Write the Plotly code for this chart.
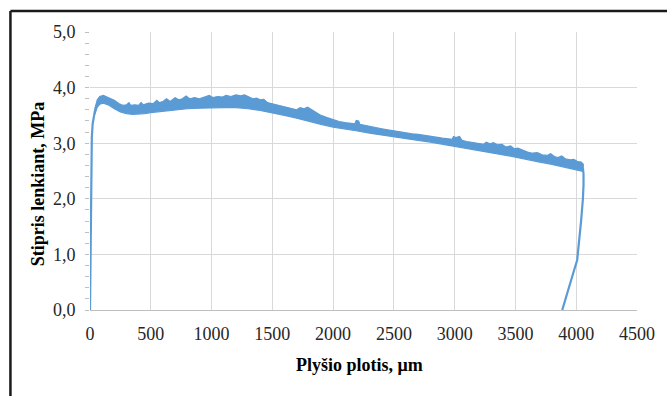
import plotly.graph_objects as go

# Rise (thin) segment
rise_x = [0, 3, 6, 10, 15, 22, 30, 40, 55]
rise_y = [0.0, 0.8, 1.8, 2.6, 3.1, 3.35, 3.5, 3.58, 3.68]

# Noisy band: upper edge (with spikes)
upper_x = [40, 60, 80, 110, 140, 170, 200, 240, 270, 300, 320, 335, 370, 400, 420, 440,
           480, 520, 550, 570, 600, 630, 660, 700, 730, 760, 790, 820, 860, 900, 940,
           980, 1010, 1050, 1090, 1120, 1160, 1200, 1240, 1270, 1300, 1340, 1370, 1400,
           1430, 1460, 1500, 1550, 1600, 1650, 1700, 1730, 1760, 1790, 1820, 1850, 1900,
           1950, 2000, 2050, 2100, 2150, 2180, 2190, 2210, 2220, 2260, 2300, 2350, 2400,
           2450, 2500, 2550, 2600, 2650, 2700, 2750, 2800, 2850, 2900, 2950, 2980, 2990,
           3010, 3040, 3060, 3100, 3150, 3200, 3240, 3260, 3290, 3320, 3350, 3390, 3420,
           3460, 3490, 3520, 3560, 3600, 3640, 3680, 3720, 3760, 3790, 3820, 3850, 3880,
           3910, 3950, 3980, 4010, 4040, 4058]
upper_y = [3.62, 3.78, 3.84, 3.86, 3.83, 3.80, 3.77, 3.71, 3.68, 3.69, 3.73, 3.68, 3.69,
           3.68, 3.73, 3.69, 3.72, 3.71, 3.77, 3.73, 3.75, 3.80, 3.75, 3.82, 3.78, 3.80,
           3.85, 3.80, 3.82, 3.80, 3.83, 3.86, 3.82, 3.84, 3.83, 3.86, 3.84, 3.87, 3.85,
           3.87, 3.84, 3.80, 3.81, 3.78, 3.79, 3.73, 3.71, 3.68, 3.65, 3.62, 3.60, 3.64,
           3.62, 3.65, 3.61, 3.58, 3.50, 3.46, 3.42, 3.39, 3.37, 3.35, 3.35, 3.41, 3.40,
           3.34, 3.32, 3.30, 3.28, 3.26, 3.24, 3.22, 3.20, 3.19, 3.17, 3.16, 3.14, 3.12,
           3.11, 3.09, 3.08, 3.07, 3.12, 3.10, 3.12, 3.05, 3.03, 3.01, 2.99, 2.98, 3.02,
           2.99, 3.01, 2.97, 2.98, 2.93, 2.95, 2.90, 2.91, 2.87, 2.84, 2.82, 2.83, 2.79,
           2.78, 2.81, 2.76, 2.74, 2.77, 2.72, 2.70, 2.71, 2.67, 2.66, 2.62]

# Noisy band: lower edge
lower_x = [40, 60, 80, 110, 150, 200, 250, 300, 350, 400, 450, 500, 600, 700, 800, 900,
           1000, 1100, 1200, 1300, 1400, 1500, 1600, 1700, 1800, 1900, 2000, 2100, 2200,
           2300, 2400, 2500, 2600, 2700, 2800, 2900, 3000, 3100, 3200, 3300, 3400, 3500,
           3600, 3700, 3800, 3900, 4000, 4058]
lower_y = [3.52, 3.65, 3.70, 3.72, 3.69, 3.62, 3.56, 3.53, 3.52, 3.52, 3.53, 3.55, 3.58,
           3.60, 3.62, 3.63, 3.64, 3.64, 3.64, 3.62, 3.59, 3.55, 3.50, 3.45, 3.40, 3.34,
           3.29, 3.25, 3.22, 3.18, 3.15, 3.11, 3.08, 3.05, 3.02, 2.99, 2.95, 2.91, 2.87,
           2.83, 2.79, 2.75, 2.71, 2.66, 2.62, 2.57, 2.52, 2.49]

# Final drop (thin)
drop_x = [4055, 4060, 4060, 4055, 4040, 4025, 4008, 3975, 3930, 3885]
drop_y = [2.55, 2.45, 2.25, 2.0, 1.6, 1.25, 0.9, 0.66, 0.33, 0.0]

x_ticks = [0, 500, 1000, 1500, 2000, 2500, 3000, 3500, 4000, 4500]
y_ticks = [0.0, 1.0, 2.0, 3.0, 4.0, 5.0]

blue = "#5B9BD5"
fig = go.Figure()
poly_x = upper_x + lower_x[::-1]
poly_y = upper_y + lower_y[::-1]
fig.add_trace(go.Scatter(x=poly_x, y=poly_y, mode="lines", fill="toself",
                         fillcolor=blue, line=dict(color=blue, width=1.2),
                         showlegend=False))
fig.add_trace(go.Scatter(x=rise_x, y=rise_y, mode="lines",
                         line=dict(color=blue, width=2.2), showlegend=False))
fig.add_trace(go.Scatter(x=drop_x, y=drop_y, mode="lines",
                         line=dict(color=blue, width=2.2), showlegend=False))

W, H = 667, 396
L, R, T, B = 90, 27, 32, 86
pw, ph = W - L - R, H - T - B

fig.update_layout(
    width=W, height=H,
    margin=dict(l=L, r=R, t=T, b=B),
    paper_bgcolor="white", plot_bgcolor="white",
    separators=", ",
    font=dict(family="Liberation Serif", size=18, color="#262626"),
)
fig.update_xaxes(range=[0, 4500], tickvals=x_ticks, tickformat="d",
                 showgrid=True, gridcolor="#d9d9d9", gridwidth=1,
                 showline=True, linecolor="#bfbfbf", linewidth=1,
                 ticks="", zeroline=False, mirror=False,
                 ticklabelstandoff=7)
fig.update_yaxes(range=[0, 5], tickvals=y_ticks, tickformat=".1f",
                 showgrid=True, gridcolor="#d9d9d9", gridwidth=1,
                 showline=False, zeroline=False,
                 ticks="outside", ticklen=4, tickcolor="#bfbfbf",
                 minor=dict(dtick=0.2, ticks="outside", ticklen=4,
                            tickcolor="#bfbfbf", showgrid=False),
                 ticklabelstandoff=6)

# axis titles
fig.add_annotation(xref="paper", yref="paper", x=(361 - L) / pw, y=(H - B - 365) / ph,
                   text="<b>Plyšio plotis, μm</b>", showarrow=False,
                   xanchor="center", yanchor="middle",
                   font=dict(family="Liberation Serif", size=18, color="black"))
fig.add_annotation(xref="paper", yref="paper", x=(38 - L) / pw, y=(H - B - 184) / ph,
                   text="<b>Stipris lenkiant, MPa</b>", showarrow=False, textangle=-90,
                   xanchor="center", yanchor="middle",
                   font=dict(family="Liberation Serif", size=18, color="black"))

# outer chart border (top and left visible)
top_y = (H - B - 11) / ph
left_x = (10 - L) / pw
fig.add_shape(type="line", xref="paper", yref="paper", x0=left_x, x1=(W + 5 - L) / pw,
              y0=top_y, y1=top_y, line=dict(color="#1a1a1a", width=2.5))
fig.add_shape(type="line", xref="paper", yref="paper", x0=left_x, x1=left_x,
              y0=top_y, y1=(H - B - H - 5) / ph, line=dict(color="#1a1a1a", width=2.5))

fig.write_html("out.html")
